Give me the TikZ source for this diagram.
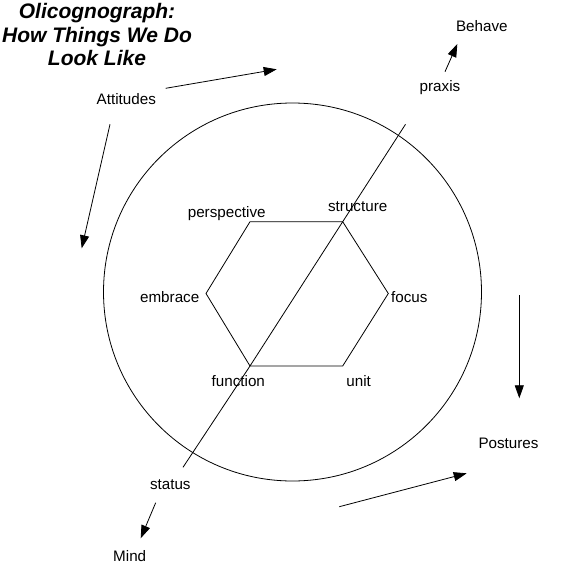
\documentclass[tikz,border=0pt]{standalone}
\usepackage{fontspec}
\setmainfont{Liberation Sans}
\usetikzlibrary{arrows.meta}

\begin{document}
\begin{tikzpicture}[x=1pt,y=-1pt,line width=0.8pt,
  lbl/.style={anchor=base,inner sep=1pt,font=\fontsize{15.2}{18}\selectfont},
  arr/.style={-{Triangle[length=13pt,width=9pt]}}]
\useasboundingbox (0,0) rectangle (567,580);
% title
\node[anchor=north,inner sep=0pt,align=center,
  font=\fontsize{21}{23.5}\selectfont\bfseries\itshape] (title) at (97,3)
  {Olicognograph:\\How Things We Do\\Look Like};
% outer circle
\draw (292.5,292) circle[radius=189];
% hexagon corners
\coordinate (hexTL) at (250,221.7);
\coordinate (hexTR) at (342.7,221.7);
\coordinate (hexR) at (388.3,293.5);
\coordinate (hexBR) at (342.7,366);
\coordinate (hexBL) at (250,366);
\coordinate (hexL) at (206,293.5);
\draw (hexTL) -- (hexTR) -- (hexR) -- (hexBR) -- (hexBL) -- (hexL) -- cycle;
% diagonal
\coordinate (diagTop) at (405.5,124.3);
\coordinate (diagBot) at (183,467.3);
\draw (diagTop) -- (hexTR) -- (hexBL) -- (diagBot);
% labels
\node[lbl] (attitudes) at (126.3,105) {Attitudes};
\node[lbl] (perspective) at (226.7,217.3) {perspective};
\node[lbl] (structure) at (357.7,211) {structure};
\node[lbl] (embrace) at (169.7,302.7) {embrace};
\node[lbl] (focus) at (409.3,302.7) {focus};
\node[lbl] (function) at (238.3,386.7) {function};
\node[lbl] (unit) at (358.7,386.7) {unit};
\node[lbl] (status) at (170.3,489) {status};
\node[lbl] (mind) at (129.7,561.7) {Mind};
\node[lbl] (postures) at (508.5,448.3) {Postures};
\node[lbl] (behave) at (481.8,31.7) {Behave};
\node[lbl] (praxis) at (440,91.7) {praxis};
% arrow ends
\coordinate (topA) at (165.7,88.3);
\coordinate (topB) at (276.7,69.3);
\coordinate (leftA) at (110,124.3);
\coordinate (leftB) at (81.7,248.3);
\coordinate (rightA) at (519.3,295);
\coordinate (rightB) at (519.3,398.3);
\coordinate (botA) at (339.3,506.7);
\coordinate (botB) at (466.7,473.3);
\coordinate (praxisA) at (445,71.7);
\coordinate (praxisB) at (457.3,44);
\coordinate (statusA) at (155.7,502.7);
\coordinate (statusB) at (140.7,538.3);
\draw[arr] (topA) -- (topB);
\draw[arr] (leftA) -- (leftB);
\draw[arr] (rightA) -- (rightB);
\draw[arr] (botA) -- (botB);
\draw[arr] (praxisA) -- (praxisB);
\draw[arr] (statusA) -- (statusB);
\end{tikzpicture}
\end{document}
